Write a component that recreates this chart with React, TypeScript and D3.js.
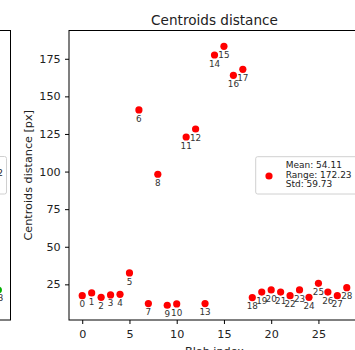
import React, { useEffect, useRef } from "react";
import * as d3 from "d3";

// blob index -> centroid distance (px)
const blobIndex = [
  0, 1, 2, 3, 4, 5, 6, 7, 8, 9, 10, 11, 12, 13, 14, 15, 16, 17, 18, 19, 20, 21,
  22, 23, 24, 25, 26, 27, 28,
];
const distances = [
  17.5, 19.3, 16.4, 18.0, 18.4, 32.6, 141.0, 12.2, 98.2, 11.1, 12.0, 123.0,
  128.3, 12.2, 177.5, 183.3, 164.0, 168.0, 16.2, 19.9, 21.3, 19.9, 17.5, 21.3,
  16.4, 25.7, 19.9, 17.5, 22.8,
];
const xTicks = [0, 5, 10, 15, 20, 25];
const yTicks = [25, 50, 75, 100, 125, 150, 175];
const legendLines = ["Mean: 54.11", "Range: 172.23", "Std: 59.73"];

const FONT = "DejaVu Sans, sans-serif";

const App = () => {
  const ref = useRef<SVGSVGElement>(null);

  useEffect(() => {
    const svg = d3.select(ref.current);
    svg.selectAll("*").remove();

    const left = 69;
    const right = 360;
    const top = 30.5;
    const bottom = 320;

    const x = d3.scaleLinear().domain([-1.4, 29.4]).range([left, right]);
    const y = d3.scaleLinear().domain([1.3, 193.8]).range([bottom, top]);

    // edge of the neighbouring subplot (cropped)
    const prev = svg.append("g");
    prev
      .append("rect")
      .attr("x", -60)
      .attr("y", top)
      .attr("width", 70.5)
      .attr("height", bottom - top)
      .attr("fill", "none")
      .attr("stroke", "#000")
      .attr("stroke-width", 1);
    prev
      .append("rect")
      .attr("x", -60)
      .attr("y", 156.5)
      .attr("width", 66.5)
      .attr("height", 37.5)
      .attr("rx", 2)
      .attr("fill", "#fff")
      .attr("stroke", "#d0d0d0")
      .attr("stroke-width", 1);
    prev
      .append("text")
      .attr("x", 3)
      .attr("y", 176)
      .attr("text-anchor", "end")
      .style("font-family", FONT)
      .style("font-size", "9px")
      .attr("fill", "#222")
      .text("2");
    prev
      .append("circle")
      .attr("cx", -1.5)
      .attr("cy", 290)
      .attr("r", 3.5)
      .attr("fill", "#00b000");
    prev
      .append("text")
      .attr("x", 3.3)
      .attr("y", 301)
      .attr("text-anchor", "end")
      .style("font-family", FONT)
      .style("font-size", "8.8px")
      .attr("fill", "#333")
      .text("3");

    // axes
    const gx = svg
      .append("g")
      .attr("transform", "translate(0," + bottom + ")")
      .call(d3.axisBottom(x).tickValues(xTicks).tickSize(4).tickPadding(6));
    const gy = svg
      .append("g")
      .attr("transform", "translate(" + left + ",0)")
      .call(d3.axisLeft(y).tickValues(yTicks).tickSize(4).tickPadding(4.3));
    [gx, gy].forEach((g) => {
      g.select(".domain").remove();
      g.selectAll("line").attr("stroke", "#000");
      g.selectAll("text")
        .style("font-family", FONT)
        .style("font-size", "11.2px")
        .attr("fill", "#222");
    });

    svg
      .append("rect")
      .attr("x", left)
      .attr("y", top)
      .attr("width", right - left)
      .attr("height", bottom - top)
      .attr("fill", "none")
      .attr("stroke", "#000")
      .attr("stroke-width", 1);

    // points and their index labels
    svg
      .selectAll(".pt")
      .data(blobIndex)
      .enter()
      .append("circle")
      .attr("class", "pt")
      .attr("cx", (d) => x(d))
      .attr("cy", (d, i) => y(distances[i]))
      .attr("r", 3.6)
      .attr("fill", "#ff0000");

    svg
      .selectAll(".lbl")
      .data(blobIndex)
      .enter()
      .append("text")
      .attr("class", "lbl")
      .attr("x", (d) => x(d))
      .attr("y", (d, i) => y(distances[i]) + 11.6)
      .attr("text-anchor", "middle")
      .style("font-family", FONT)
      .style("font-size", "8.8px")
      .attr("fill", "#333")
      .text((d) => String(d));

    // title and axis labels
    svg
      .append("text")
      .attr("x", (left + right) / 2)
      .attr("y", 25)
      .attr("text-anchor", "middle")
      .style("font-family", FONT)
      .style("font-size", "13.6px")
      .attr("fill", "#222")
      .text("Centroids distance");

    svg
      .append("text")
      .attr("transform", "translate(32," + (top + bottom) / 2 + ") rotate(-90)")
      .attr("text-anchor", "middle")
      .style("font-family", FONT)
      .style("font-size", "11.2px")
      .attr("fill", "#222")
      .text("Centroids distance [px]");

    svg
      .append("text")
      .attr("x", (left + right) / 2)
      .attr("y", 354.5)
      .attr("text-anchor", "middle")
      .style("font-family", FONT)
      .style("font-size", "11.2px")
      .attr("fill", "#222")
      .text("Blob index");

    // legend
    const lg = svg.append("g");
    lg.append("rect")
      .attr("x", 255.7)
      .attr("y", 156.7)
      .attr("width", 110)
      .attr("height", 37.3)
      .attr("rx", 2)
      .attr("fill", "#fff")
      .attr("fill-opacity", 0.8)
      .attr("stroke", "#d0d0d0")
      .attr("stroke-width", 1);
    lg.append("circle")
      .attr("cx", 269)
      .attr("cy", 176)
      .attr("r", 3.6)
      .attr("fill", "#ff0000");
    lg.selectAll(".lt")
      .data(legendLines)
      .enter()
      .append("text")
      .attr("class", "lt")
      .attr("x", 285.7)
      .attr("y", (d, i) => 167.7 + i * 9.8)
      .style("font-family", FONT)
      .style("font-size", "9px")
      .attr("fill", "#222")
      .text((d) => d);
  }, []);

  return (
    <svg
      ref={ref}
      width={355}
      height={350}
      style={{ position: "absolute", left: 0, top: 0, background: "#fff" }}
    ></svg>
  );
};

export default App;
